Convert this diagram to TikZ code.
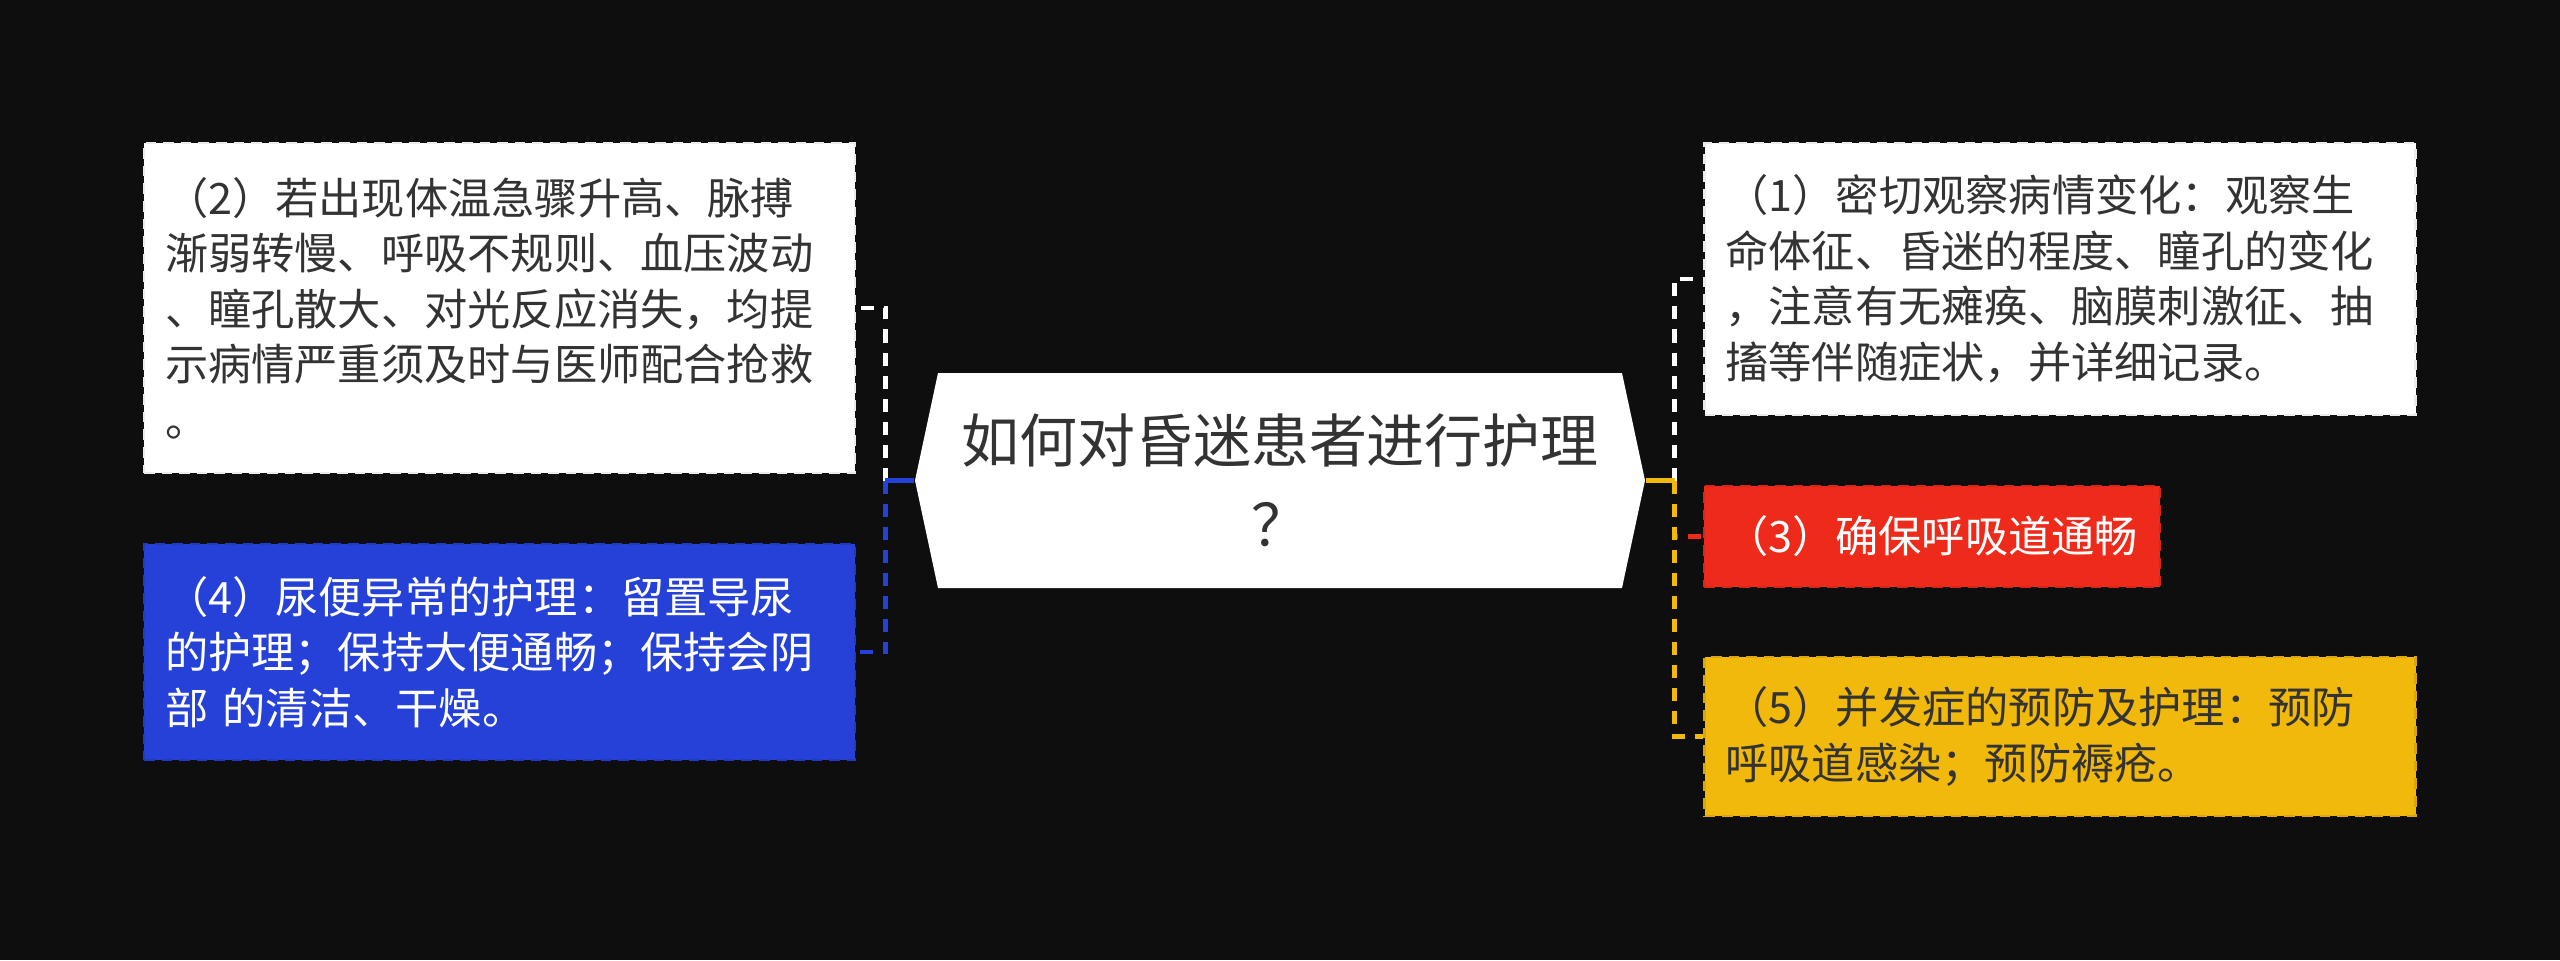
\documentclass[tikz,border=0pt]{standalone}
\usepackage{fontspec}
\setmainfont{Noto Sans CJK SC}
\definecolor{mmbg}{HTML}{0E0E0E}
\definecolor{mmtext}{HTML}{333333}
\definecolor{mmblue}{HTML}{2541D8}
\definecolor{mmred}{HTML}{EE2A1A}
\definecolor{mmyellow}{HTML}{F1B90C}
\usepackage{tikz}
\usetikzlibrary{calc}

\begin{document}
\begin{tikzpicture}[
    topicbox/.style={draw, dash pattern=on 3pt off 2pt, line width=0.8pt, align=left,
                 inner xsep=0.21cm, inner ysep=0pt, text width=6.69cm, minimum width=7.11cm,
                 font=\fontsize{12.3pt}{15.8pt}\selectfont},
    linkdash/.style={line width=1.4pt, dash pattern=on 0.13cm off 0.1cm},
    linkstub/.style={line width=1.4pt},
  ]
    \fill[mmbg] (0,0) rectangle (25.6,9.6);
    \useasboundingbox (0,0) rectangle (25.6,9.6);
    % central topic
    \node[minimum width=7.30cm, minimum height=2.15cm, inner sep=0pt, align=center,
          text=mmtext, font=\fontsize{16.5pt}{24pt}\selectfont,
          path picture={\fill[white]
            ($(path picture bounding box.north west)+(0.23,0)$) -- (path picture bounding box.west)
            -- ($(path picture bounding box.south west)+(0.23,0)$)
            -- ($(path picture bounding box.south east)+(-0.23,0)$) -- (path picture bounding box.east)
            -- ($(path picture bounding box.north east)+(-0.23,0)$) -- cycle;}]
      (root) at (12.80,4.795) {如何对昏迷患者进行护理\\？};
    % left side
    \node[topicbox, fill=white, draw=white!92!black, text=mmtext, minimum height=3.30cm] (n2) at (4.995,6.52)
      {（2）若出现体温急骤升高、脉搏\\渐弱转慢、呼吸不规则、血压波动\\、瞳孔散大、对光反应消失，均提\\示病情严重须及时与医师配合抢救\\。};
    \node[topicbox, fill=mmblue, draw=mmblue!90!black, text=white, minimum height=2.16cm] (n4) at (4.995,3.08)
      {（4）尿便异常的护理：留置导尿\\的护理；保持大便通畅；保持会阴\\部 的清洁、干燥。};
    % right side
    \node[topicbox, fill=white, draw=white!92!black, text=mmtext, minimum height=2.72cm] (n1) at (20.60,6.81)
      {（1）密切观察病情变化：观察生\\命体征、昏迷的程度、瞳孔的变化\\，注意有无瘫痪、脑膜刺激征、抽\\搐等伴随症状，并详细记录。};
    \node[topicbox, fill=mmred, draw=mmred!90!black, text=white, text width=4.14cm, minimum width=4.56cm,
          minimum height=1.01cm] (n3) at (19.32,4.235) {（3）确保呼吸道通畅};
    \node[topicbox, fill=mmyellow, draw=mmyellow!90!black, text=mmtext, minimum height=1.59cm] (n5) at (20.60,2.235)
      {（5）并发症的预防及护理：预防\\呼吸道感染；预防褥疮。};
    % connectors
    \coordinate (lj) at ($(root.west)+(-0.29,0)$);
    \coordinate (rj) at ($(root.east)+(0.29,0)$);
    \draw[linkdash, white] (lj) |- (n2.east);
    \draw[linkdash, mmblue] (lj) |- (n4.east);
    \draw[linkstub, mmblue] (root.west) -- (lj);
    \draw[linkdash, white] (rj) |- (n1.west);
    \draw[linkdash, mmred] (rj) |- (n3.west);
    \draw[linkdash, mmyellow] (rj) |- (n5.west);
    \draw[linkstub, mmyellow] (root.east) -- (rj);
  \end{tikzpicture}
\end{document}
